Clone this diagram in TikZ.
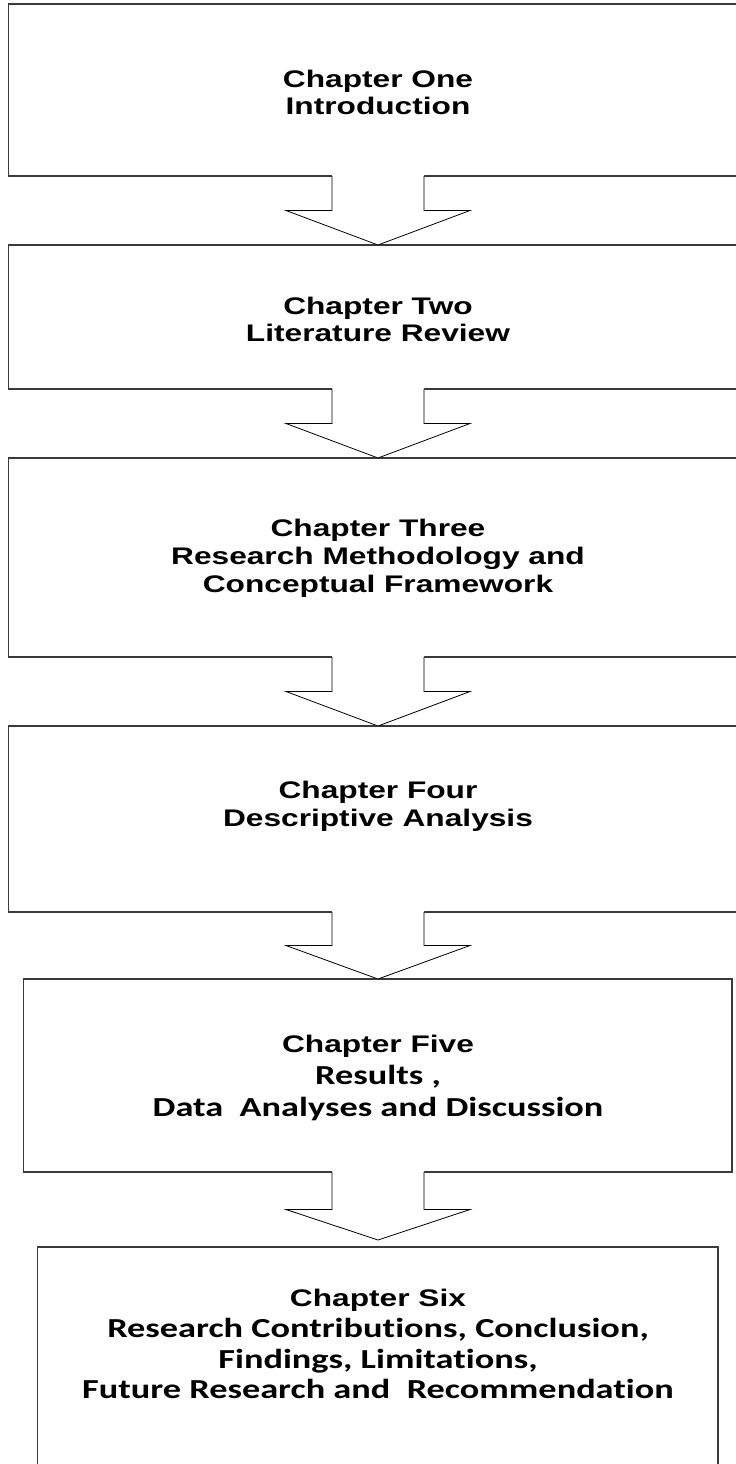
\documentclass[tikz,border=0pt]{standalone}
\usepackage{fontspec}
\usetikzlibrary{calc}
% widened faces for the chapter titles and the longer descriptions
\newfontfamily\headfont[FakeStretch=1.32]{Liberation Sans}
\newfontfamily\bodyfont[FakeStretch=1.32,Ligatures=NoCommon]{Carlito}
\definecolor{edge}{HTML}{3A3A3A}

% hollow block arrow from the bottom of one box towards the top of the next
% #1 upper box, #2 lower box, #3 gap left between tip and lower box
\newcommand\blockarrow[3]{%
  \path let \p1=(#1.south -| axis), \p2=(#2.north -| axis),
            \p3=($(\p1)!.5!(\p2)$), \p4=($(\p2)+(0,-#3)$) in
    [fill=white] (\x1-46pt,\y1+1.2pt) -- (\x1-46pt,\y3) -- (\x1-92pt,\y3)
      -- (\x4,\y4) -- (\x1+92pt,\y3) -- (\x1+46pt,\y3) -- (\x1+46pt,\y1+1.2pt) -- cycle;
  \draw[flowarrow] let \p1=(#1.south -| axis), \p2=(#2.north -| axis),
            \p3=($(\p1)!.5!(\p2)$), \p4=($(\p2)+(0,-#3)$) in
    (\x1-46pt,\y1) -- (\x1-46pt,\y3) -- (\x1-92pt,\y3)
      -- (\x4,\y4) -- (\x1+92pt,\y3) -- (\x1+46pt,\y3) -- (\x1+46pt,\y1);
}

\begin{document}
\begin{tikzpicture}[x=1pt,y=-1pt,
  chapbox/.style={draw=edge, line width=1.5pt, rectangle, inner sep=0pt, outer sep=0pt},
  flowarrow/.style={draw=black, line width=0.8pt, line join=miter},
  headline/.style={anchor=base, inner sep=0pt, font=\headfont\bfseries\fontsize{24}{27}\selectfont},
  bodyline/.style={anchor=base, inner sep=0pt, font=\bodyfont\bfseries\fontsize{27.5}{31}\selectfont}]

\useasboundingbox[fill=white] (0,0) rectangle (736,1464);
\coordinate (axis) at (378,0);

% chapter boxes (the first four run past the right margin, the last past the bottom)
\node[chapbox, minimum width=738pt, minimum height=172pt] (box1) at (377.5,90) {};
\node[chapbox, minimum width=738pt, minimum height=144pt] (box2) at (377.5,317) {};
\node[chapbox, minimum width=738pt, minimum height=199pt] (box3) at (377.5,557.5) {};
\node[chapbox, minimum width=738pt, minimum height=186pt] (box4) at (377.5,819) {};
\node[chapbox, minimum width=708.5pt, minimum height=193pt] (box5) at (377.75,1075.5) {};
\node[chapbox, minimum width=680.5pt, minimum height=240pt] (box6) at (377.75,1367) {};

% connecting arrows
\blockarrow{box1}{box2}{0}
\blockarrow{box2}{box3}{0}
\blockarrow{box3}{box4}{0}
\blockarrow{box4}{box5}{0}
\blockarrow{box5}{box6}{7}

% box texts
\node[headline] (t1a) at (378,87) {Chapter One};
\node[headline] (t1b) at (378,114) {Introduction};

\node[headline] (t2a) at (378,314) {Chapter Two};
\node[headline] (t2b) at (378,341) {Literature Review};

\node[headline] (t3a) at (378,536) {Chapter Three};
\node[headline] (t3b) at (378,564) {Research Methodology and};
\node[headline] (t3c) at (378,592) {Conceptual Framework};

\node[headline] (t4a) at (378,798) {Chapter Four};
\node[headline] (t4b) at (378,826) {Descriptive Analysis};

\node[headline] (t5a) at (378,1052) {Chapter Five};
\node[bodyline] (t5b) at (378,1084) {Results ,};
\node[bodyline] (t5c) at (378,1116) {Data\ \ Analyses and Discussion};

\node[headline] (t6a) at (378,1306) {Chapter Six};
\node[bodyline] (t6b) at (378,1337) {Research Contributions, Conclusion,};
\node[bodyline] (t6c) at (378,1368) {Findings, Limitations,};
\node[bodyline] (t6d) at (378,1398) {Future Research and\ \ Recommendation};
\end{tikzpicture}
\end{document}
